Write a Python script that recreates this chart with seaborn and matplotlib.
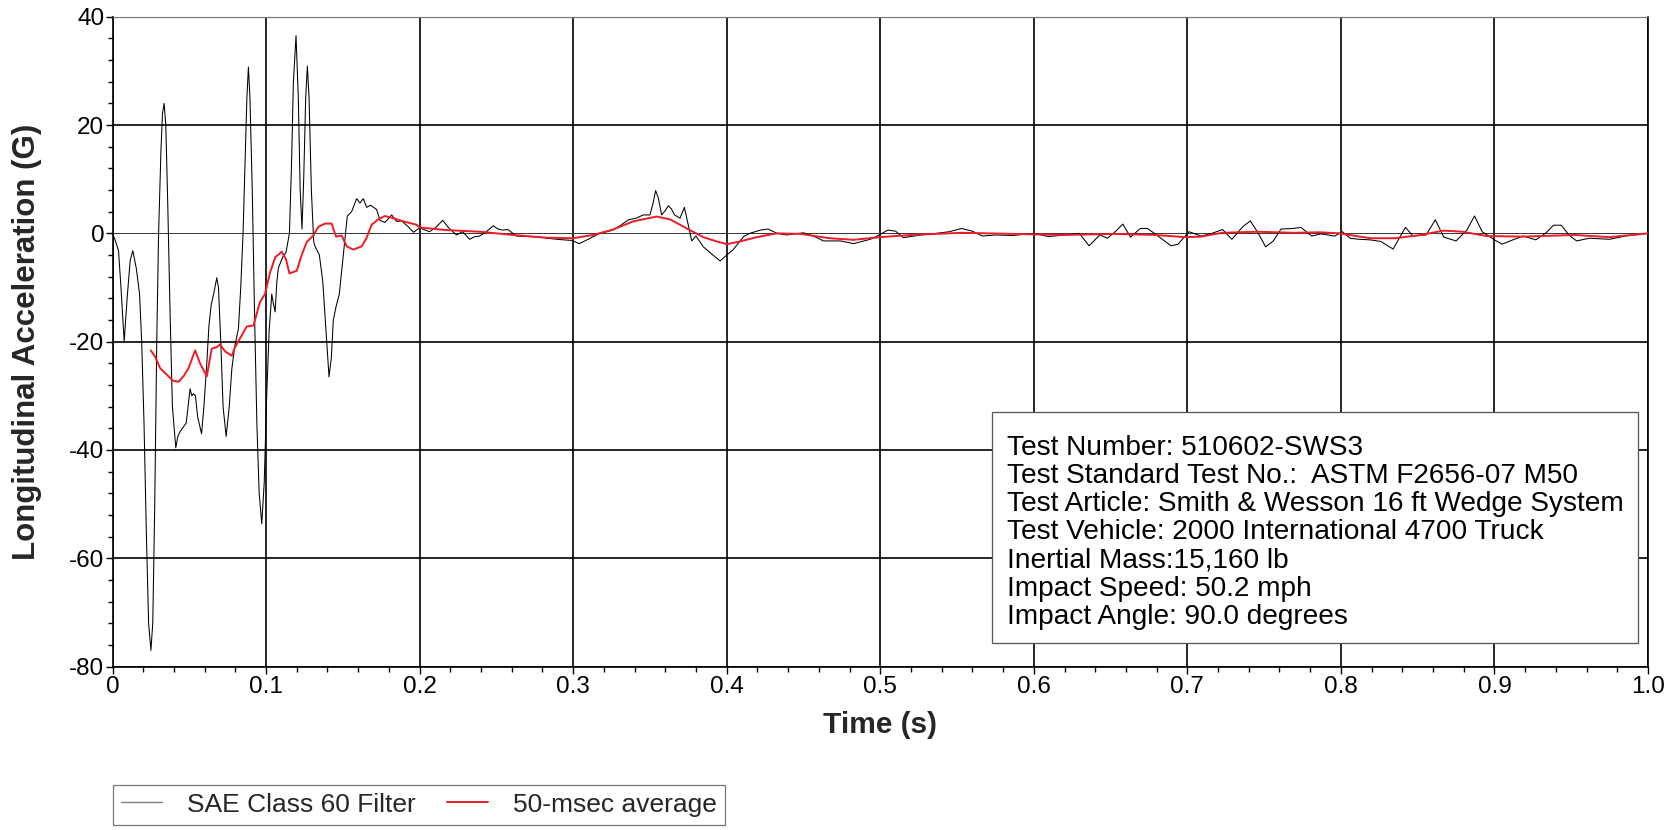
import numpy as np
import pandas as pd
import matplotlib
matplotlib.use("Agg")
import matplotlib.pyplot as plt
from matplotlib.ticker import MultipleLocator
from matplotlib.patches import Rectangle
import seaborn as sns

# ---------------- data ----------------
t_filter = [0, 0.002, 0.0039, 0.0055, 0.0076, 0.0095, 0.0115, 0.0132, 0.0155, 0.0176, 0.019, 0.0205,
            0.022, 0.0235, 0.025, 0.0262, 0.0275, 0.0288, 0.030, 0.0315, 0.0325, 0.0336, 0.0347, 0.036,
            0.0375, 0.039, 0.0412, 0.0425, 0.044, 0.048, 0.0492, 0.0505, 0.0517, 0.0527, 0.054, 0.0555,
            0.058, 0.0595, 0.0614, 0.0628, 0.0642, 0.066, 0.0679, 0.069, 0.0705, 0.072, 0.074, 0.076,
            0.0777, 0.0795, 0.082, 0.0835, 0.085, 0.0865, 0.0875, 0.0885, 0.0895, 0.091, 0.0925, 0.094,
            0.0955, 0.0972, 0.0988, 0.1004, 0.102, 0.1037, 0.1048, 0.1059, 0.107, 0.108, 0.1108, 0.113,
            0.1152, 0.1165, 0.1178, 0.1195, 0.121, 0.1222, 0.1234, 0.1245, 0.1258, 0.1269, 0.128, 0.1295,
            0.131, 0.1319, 0.1347, 0.1369, 0.139, 0.141, 0.1425, 0.1438, 0.1456, 0.1477, 0.1503, 0.1529,
            0.1557, 0.159, 0.1612, 0.1633, 0.1655, 0.1681, 0.172, 0.1742, 0.1774, 0.1818, 0.185, 0.1883,
            0.1926, 0.196, 0.2, 0.2065, 0.211, 0.215, 0.219, 0.224, 0.228, 0.2326, 0.236, 0.239, 0.243,
            0.248, 0.251, 0.254, 0.2576, 0.263, 0.27, 0.278, 0.286, 0.2935, 0.299, 0.304, 0.309, 0.3174,
            0.326, 0.331, 0.336, 0.341, 0.3457, 0.35, 0.352, 0.3537, 0.3555, 0.3576, 0.36, 0.362, 0.364,
            0.366, 0.3696, 0.3724, 0.375, 0.3772, 0.380, 0.3848, 0.391, 0.3957, 0.4, 0.404, 0.411, 0.415,
            0.422, 0.427, 0.4326, 0.439, 0.45, 0.4565, 0.463, 0.474, 0.4826, 0.4935, 0.4967, 0.505, 0.51,
            0.515, 0.5266, 0.5365, 0.545, 0.553, 0.56, 0.5665, 0.575, 0.586, 0.6, 0.6096, 0.62, 0.6296,
            0.636, 0.643, 0.648, 0.653, 0.658, 0.663, 0.6694, 0.674, 0.679, 0.6894, 0.694, 0.701, 0.709,
            0.716, 0.723, 0.729, 0.736, 0.741, 0.746, 0.751, 0.756, 0.761, 0.769, 0.774, 0.781, 0.787,
            0.796, 0.801, 0.806, 0.812, 0.819, 0.826, 0.834, 0.842, 0.847, 0.8555, 0.8615, 0.867, 0.875,
            0.882, 0.887, 0.892, 0.9, 0.905, 0.912, 0.9186, 0.927, 0.9336, 0.9385, 0.9435, 0.9485, 0.9535,
            0.962, 0.975, 0.985, 1.0]
g_filter = [0, -1.5, -3.2, -10, -20, -12, -5, -3.2, -6.5, -11.2, -20, -35,
            -55, -72, -77, -72, -50, -20, 0, 15, 22, 24, 20, 5,
            -15, -32, -39.6, -37.5, -36.6, -35, -32, -28.7, -30, -29.6, -30, -34,
            -37, -32, -24, -17, -13.3, -11, -8.2, -10, -20, -32, -37.5, -32,
            -25, -21, -17.6, -10, 0, 15, 25, 30.7, 25, 8, -15, -35,
            -48, -53.6, -46, -30, -18, -11.2, -13, -14.5, -9, -6.4, -4.4, -3.5,
            0, 12, 28, 36.5, 25, 8, 0.8, 10, 25, 30.9, 25, 8,
            -1.5, -2.4, -4, -8.8, -18, -26.5, -23, -16, -13.5, -11.2, -4, 3.2,
            4, 6.4, 5.6, 6.4, 4.8, 5.2, 4.4, 2.4, 2, 3.4, 2.2, 2.3,
            1.2, 0.2, 1, 0.3, 1.2, 2.4, 1.0, -0.3, 0.3, -1.1, -0.6, -0.5, 0.2,
            1.4, 0.8, 0.6, 0.7, -0.5, -0.6, -0.7, -1.0, -1.2, -1.3, -1.9, -1.2, 0,
            0.6, 1.5, 2.5, 2.8, 3.4, 3.4, 5.5, 7.9, 6.5, 3.4, 4.2, 5.1, 4.5,
            3.4, 2.8, 4.8, 1.5, -1.4, -0.5, -2.5, -4, -5.1, -4, -3.1, -0.6, 0,
            0.6, 0.8, 0, -0.3, 0.1, -0.5, -1.4, -1.4, -1.9, -1.1, -0.7, 0.6, 0.4,
            -0.8, -0.3, 0, 0.3, 0.9, 0.4, -0.5, -0.3, -0.4, 0, -0.6, -0.3, 0,
            -2.3, -0.3, -0.9, 0.3, 1.7, -0.7, 0.9, 0.9, -0.1, -2.3, -2, 0.3, -0.5,
            0, 0.7, -1.1, 1.2, 2.3, 0.1, -2.5, -1.4, 0.8, 0.9, 1.1, -0.5, -0.1,
            -0.5, 0.3, -0.9, -1.1, -1.2, -1.5, -2.9, 1.1, -0.5, -0.3, 2.5, -0.7, -1.4,
            0.6, 3.2, 0.3, -1.2, -2, -1.2, -0.5, -1.2, 0.1, 1.5, 1.5, -0.3, -1.4,
            -0.9, -1.1, -0.5, 0]

t_avg = [0.0249, 0.0278, 0.031, 0.0354, 0.0393, 0.043, 0.0462, 0.0495, 0.0538, 0.057, 0.0614, 0.0646,
         0.0679, 0.070, 0.0733, 0.0777, 0.0798, 0.083, 0.0874, 0.0918, 0.096, 0.0993, 0.1026, 0.106,
         0.1102, 0.113, 0.1152, 0.12, 0.1232, 0.1265, 0.1308, 0.134, 0.1384, 0.1427, 0.1456, 0.1492,
         0.1525, 0.1568, 0.1623, 0.1655, 0.1688, 0.1731, 0.1774, 0.1829, 0.1894, 0.198, 0.2, 0.2174,
         0.239, 0.261, 0.2826, 0.3, 0.313, 0.326, 0.339, 0.3543, 0.363, 0.374, 0.3848, 0.3935, 0.4,
         0.4087, 0.4196, 0.4326, 0.448, 0.467, 0.4826, 0.5, 0.52, 0.553, 0.586, 0.62, 0.653, 0.679,
         0.699, 0.709, 0.7226, 0.746, 0.769, 0.786, 0.799, 0.819, 0.8355, 0.852, 0.867, 0.879, 0.895,
         0.9186, 0.952, 0.975, 1.0]
g_avg = [-21.6, -22.8, -24.9, -26.1, -27.2, -27.4, -26.4, -24.9, -21.6, -24, -26.4, -21.3,
         -21, -20.5, -21.8, -22.6, -21, -19.4, -17.2, -17, -12.7, -11.2, -7.2, -4.4,
         -3.4, -4.8, -7.4, -6.9, -4, -1.6, -0.4, 1.2, 1.8, 1.8, -0.6, -0.4,
         -2.4, -3, -2.4, -0.8, 1.6, 2.6, 3.2, 2.8, 2.2, 1.6, 1.1, 0.6,
         0.3, -0.3, -0.8, -0.9, -0.3, 0.7, 2.2, 3.1, 2.6, 0.9, -0.7, -1.5, -2,
         -1.5, -0.7, 0, -0.1, -0.9, -1.2, -0.7, -0.3, 0.1, -0.1, -0.3, -0.1, -0.3,
         -0.7, -0.6, 0.1, 0.3, 0.1, 0.2, 0, -0.9, -0.9, -0.3, 0.5, 0.3, -0.5,
         -0.6, -0.3, -0.7, 0]

series_names = ["SAE Class 60 Filter", "50-msec average"]
x_ticks = [0, 0.1, 0.2, 0.3, 0.4, 0.5, 0.6, 0.7, 0.8, 0.9, 1.0]
x_tick_labels = ["0", "0.1", "0.2", "0.3", "0.4", "0.5", "0.6", "0.7", "0.8", "0.9", "1.0"]
y_ticks = [-80, -60, -40, -20, 0, 20, 40]
y_tick_labels = ["-80", "-60", "-40", "-20", "0", "20", "40"]
info_lines = ["Test Number: 510602-SWS3",
              "Test Standard Test No.:  ASTM F2656-07 M50",
              "Test Article: Smith & Wesson 16 ft Wedge System",
              "Test Vehicle: 2000 International 4700 Truck",
              "Inertial Mass:15,160 lb",
              "Impact Speed: 50.2 mph",
              "Impact Angle: 90.0 degrees"]

# ---------------- styling ----------------
sns.set_style("white")
plt.rcParams["font.family"] = ["Liberation Sans", "DejaVu Sans"]
plt.rcParams["axes.unicode_minus"] = False

fig = plt.figure(figsize=(16.77, 8.30), dpi=100)
ax = fig.add_axes([0.0671, 0.1968, 0.9156, 0.7831])

df_f = pd.DataFrame({"t": t_filter, "g": g_filter})
df_a = pd.DataFrame({"t": t_avg, "g": g_avg})
sns.lineplot(data=df_f, x="t", y="g", ax=ax, color="black", linewidth=0.75,
             sort=False, estimator=None, label=series_names[0], zorder=3)
sns.lineplot(data=df_a, x="t", y="g", ax=ax, color="#ee1c24", linewidth=1.4,
             sort=False, estimator=None, label=series_names[1], zorder=4)

ax.set_xlim(0, 1.0)
ax.set_ylim(-80, 40)
ax.set_xticks(x_ticks)
ax.set_xticklabels(x_tick_labels)
ax.set_yticks(y_ticks)
ax.set_yticklabels(y_tick_labels)
ax.xaxis.set_minor_locator(MultipleLocator(0.02))
ax.yaxis.set_minor_locator(MultipleLocator(4))
ax.tick_params(axis="both", which="major", direction="out", length=5, width=1.0,
               labelsize=17.5, color="black", labelcolor="black")
ax.tick_params(axis="x", which="major", pad=1.5)
ax.tick_params(axis="y", which="major", pad=1)
ax.tick_params(axis="both", which="minor", direction="out", length=3.5, width=1.0, color="black")
ax.tick_params(axis="both", which="both", bottom=True, left=True, top=False, right=False)

ax.grid(True, which="major", color="black", linewidth=1.2)
ax.set_axisbelow(True)
for val, gl in zip(y_ticks, ax.yaxis.get_gridlines()):
    if val == 0:
        gl.set_linewidth(0.7)
        gl.set_color("#333333")
    if val == 40:
        gl.set_linewidth(0.8)
        gl.set_color("#777777")

for side in ["left", "bottom", "right"]:
    ax.spines[side].set_color("black")
    ax.spines[side].set_linewidth(1.2)
ax.spines["top"].set_color("#777777")
ax.spines["top"].set_linewidth(0.8)

ax.set_xlabel("Time (s)", fontsize=21.5, fontweight="bold")
ax.set_ylabel("Longitudinal Acceleration (G)", fontsize=22.5, fontweight="bold")
ax.xaxis.set_label_coords(0.5, -0.068)
ax.yaxis.set_label_coords(-0.046, 0.5)

# info box
ax.add_patch(Rectangle((0.5728, 0.0365), 0.4207, 0.3553, transform=ax.transAxes,
                       facecolor="white", edgecolor="#555555", linewidth=0.9, zorder=5))
ax.text(0.5825, 0.357, "\n".join(info_lines), transform=ax.transAxes, ha="left", va="top",
        fontsize=20.2, linespacing=1.11, zorder=6, color="black")

# legend below plot
ax.get_legend().remove()
handles, labels = ax.get_legend_handles_labels()
leg = fig.legend(handles, labels, loc="upper left", bbox_to_anchor=(0.0672, 0.0546),
                 ncol=2, fontsize=19, frameon=True, fancybox=False, edgecolor="#555555",
                 borderaxespad=0, handlelength=1.55, handletextpad=0.95, columnspacing=1.2,
                 borderpad=0.3)
leg.get_frame().set_linewidth(0.9)
leg.get_lines()[0].set_color("#808080")
leg.get_lines()[0].set_linewidth(1.0)

fig.savefig("out.png", dpi=100, facecolor="white")
